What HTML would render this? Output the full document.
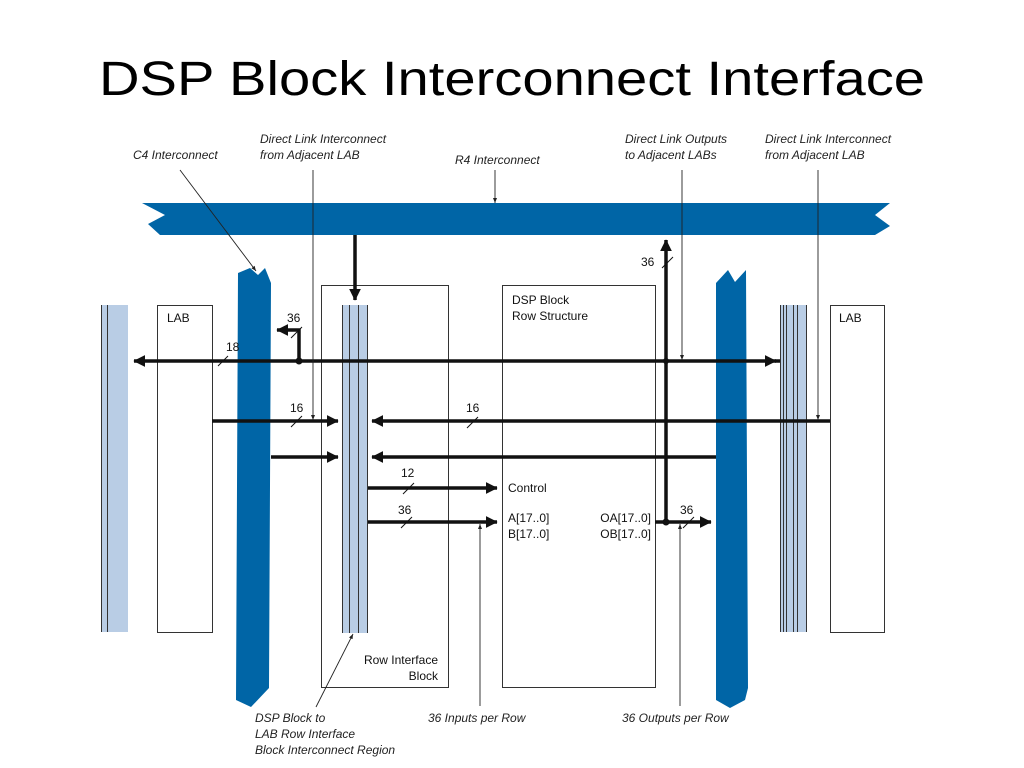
<!DOCTYPE html>
<html><head><meta charset="utf-8"><style>
html,body{margin:0;padding:0;background:#fff;width:1024px;height:768px;overflow:hidden}
svg{display:block}
.t{font-family:"Liberation Sans Narrow","Liberation Sans",sans-serif;font-style:italic;font-size:12px;fill:#222}
.n{font-family:"Liberation Sans",sans-serif;font-size:12px;fill:#111}
</style></head><body>
<svg width="1024" height="768" viewBox="0 0 1024 768" xmlns="http://www.w3.org/2000/svg">
<defs>
<marker id="a" markerWidth="4" markerHeight="4" refX="3.2" refY="2" orient="auto" markerUnits="strokeWidth"><path d="M0,0.3 L3.4,2 L0,3.7 Z" fill="#111"/></marker>
<marker id="s" markerWidth="6" markerHeight="6" refX="5" refY="3" orient="auto" markerUnits="userSpaceOnUse"><path d="M0,1 L5,3 L0,5 Z" fill="#222"/></marker>
</defs>
<text x="512" y="95" text-anchor="middle" font-family="'Liberation Sans',sans-serif" font-size="48" fill="#000" textLength="826" lengthAdjust="spacingAndGlyphs">DSP Block Interconnect Interface</text>

<!-- R4 bar -->
<polygon points="142,203 890,203 875,215 890,226 875,235 160,235 148,224 165,215" fill="#0065a6"/>
<!-- C4 columns -->
<polygon points="238,273 250,268 258,275 265,268 271,283 269,688 251,707 236,700" fill="#0065a6"/>
<polygon points="716,283 728,270 735,282 746,270 748,688 745,700 730,708 716,700" fill="#0065a6"/>

<!-- left stripe column -->
<rect x="101" y="305" width="27" height="327" fill="#b9cde5"/>
<line x1="101.5" y1="305" x2="101.5" y2="632" stroke="#333" stroke-width="1"/>
<line x1="107.5" y1="305" x2="107.5" y2="632" stroke="#333" stroke-width="1"/>
<!-- LAB left -->
<rect x="157.5" y="305.5" width="55" height="327" fill="#fff" stroke="#333" stroke-width="1"/>
<text class="n" x="167" y="322">LAB</text>
<!-- row interface box -->
<rect x="321.5" y="285.5" width="127" height="402" fill="none" stroke="#333" stroke-width="1"/>
<rect x="342" y="305" width="26" height="328" fill="#b9cde5"/>
<line x1="342.5" y1="305" x2="342.5" y2="633" stroke="#333"/>
<line x1="349.5" y1="305" x2="349.5" y2="633" stroke="#333"/>
<line x1="358.5" y1="305" x2="358.5" y2="633" stroke="#333"/>
<line x1="367.5" y1="305" x2="367.5" y2="633" stroke="#333"/>
<text class="n" x="438" y="664" text-anchor="end">Row Interface</text>
<text class="n" x="438" y="680" text-anchor="end">Block</text>
<!-- DSP box -->
<rect x="502.5" y="285.5" width="153" height="402" fill="none" stroke="#333" stroke-width="1"/>
<text class="n" x="512" y="304">DSP Block</text>
<text class="n" x="512" y="320">Row Structure</text>
<!-- right stripes -->
<rect x="780" y="305" width="27" height="327" fill="#b9cde5"/>
<line x1="780.5" y1="305" x2="780.5" y2="632" stroke="#333"/>
<line x1="783.5" y1="305" x2="783.5" y2="632" stroke="#333"/>
<line x1="786.5" y1="305" x2="786.5" y2="632" stroke="#333"/>
<line x1="793.5" y1="305" x2="793.5" y2="632" stroke="#333"/>
<line x1="797.5" y1="305" x2="797.5" y2="632" stroke="#333"/>
<line x1="806.5" y1="305" x2="806.5" y2="632" stroke="#333"/>
<rect x="830.5" y="305.5" width="54" height="327" fill="#fff" stroke="#333" stroke-width="1"/>
<text class="n" x="839" y="322">LAB</text>

<!-- thick connectors -->
<g stroke="#111" stroke-width="3.5" fill="none">
<line x1="355" y1="235" x2="355" y2="300" marker-end="url(#a)"/>
<line x1="780" y1="361" x2="134" y2="361" marker-end="url(#a)"/>
<line x1="775" y1="361" x2="776" y2="361" marker-end="url(#a)"/>
<polyline points="299,361 299,330 277,330" marker-end="url(#a)"/>
<line x1="666" y1="522" x2="666" y2="240" marker-end="url(#a)"/>
<line x1="212" y1="421" x2="338" y2="421" marker-end="url(#a)"/>
<line x1="830" y1="421" x2="372" y2="421" marker-end="url(#a)"/>
<line x1="271" y1="457" x2="338" y2="457" marker-end="url(#a)"/>
<line x1="716" y1="457" x2="372" y2="457" marker-end="url(#a)"/>
<line x1="368" y1="488" x2="497" y2="488" marker-end="url(#a)"/>
<line x1="368" y1="522" x2="497" y2="522" marker-end="url(#a)"/>
<line x1="655" y1="522" x2="711" y2="522" marker-end="url(#a)"/>
</g>
<circle cx="299" cy="361" r="3.5" fill="#111"/>
<circle cx="666" cy="361" r="3" fill="#111"/>
<circle cx="666" cy="522" r="3.5" fill="#111"/>

<!-- slashes -->
<g stroke="#111" stroke-width="1">
<line x1="218" y1="366" x2="228" y2="356"/>
<line x1="291" y1="338" x2="302" y2="327"/>
<line x1="662" y1="268" x2="673" y2="257"/>
<line x1="291" y1="427" x2="302" y2="416"/>
<line x1="467" y1="428" x2="478" y2="417"/>
<line x1="403" y1="494" x2="414" y2="483"/>
<line x1="401" y1="528" x2="412" y2="517"/>
<line x1="683" y1="528" x2="694" y2="517"/>
</g>
<text class="n" x="226" y="351">18</text>
<text class="n" x="287" y="322">36</text>
<text class="n" x="641" y="266">36</text>
<text class="n" x="290" y="412">16</text>
<text class="n" x="466" y="412">16</text>
<text class="n" x="401" y="477">12</text>
<text class="n" x="398" y="514">36</text>
<text class="n" x="680" y="514">36</text>
<text class="n" x="508" y="492">Control</text>
<text class="n" x="508" y="522">A[17..0]</text>
<text class="n" x="508" y="538">B[17..0]</text>
<text class="n" x="651" y="522" text-anchor="end">OA[17..0]</text>
<text class="n" x="651" y="538" text-anchor="end">OB[17..0]</text>

<!-- annotation pointers -->
<g stroke="#222" stroke-width="0.9" fill="none">
<line x1="180" y1="170" x2="256" y2="271" marker-end="url(#s)"/>
<line x1="313" y1="170" x2="313" y2="420" marker-end="url(#s)"/>
<line x1="495" y1="170" x2="495" y2="203" marker-end="url(#s)"/>
<line x1="682" y1="170" x2="682" y2="360" marker-end="url(#s)"/>
<line x1="818" y1="170" x2="818" y2="420" marker-end="url(#s)"/>
<line x1="316" y1="707" x2="353" y2="634" marker-end="url(#s)"/>
<line x1="480" y1="706" x2="480" y2="524" marker-end="url(#s)"/>
<line x1="680" y1="706" x2="680" y2="524" marker-end="url(#s)"/>
</g>
<text class="t" x="133" y="159">C4 Interconnect</text>
<text class="t" x="260" y="143">Direct Link Interconnect</text>
<text class="t" x="260" y="159">from Adjacent LAB</text>
<text class="t" x="455" y="164">R4 Interconnect</text>
<text class="t" x="625" y="143">Direct Link Outputs</text>
<text class="t" x="625" y="159">to Adjacent LABs</text>
<text class="t" x="765" y="143">Direct Link Interconnect</text>
<text class="t" x="765" y="159">from Adjacent LAB</text>
<text class="t" x="255" y="722">DSP Block to</text>
<text class="t" x="255" y="738">LAB Row Interface</text>
<text class="t" x="255" y="754">Block Interconnect Region</text>
<text class="t" x="428" y="722">36 Inputs per Row</text>
<text class="t" x="622" y="722">36 Outputs per Row</text>
</svg>
</body></html>
